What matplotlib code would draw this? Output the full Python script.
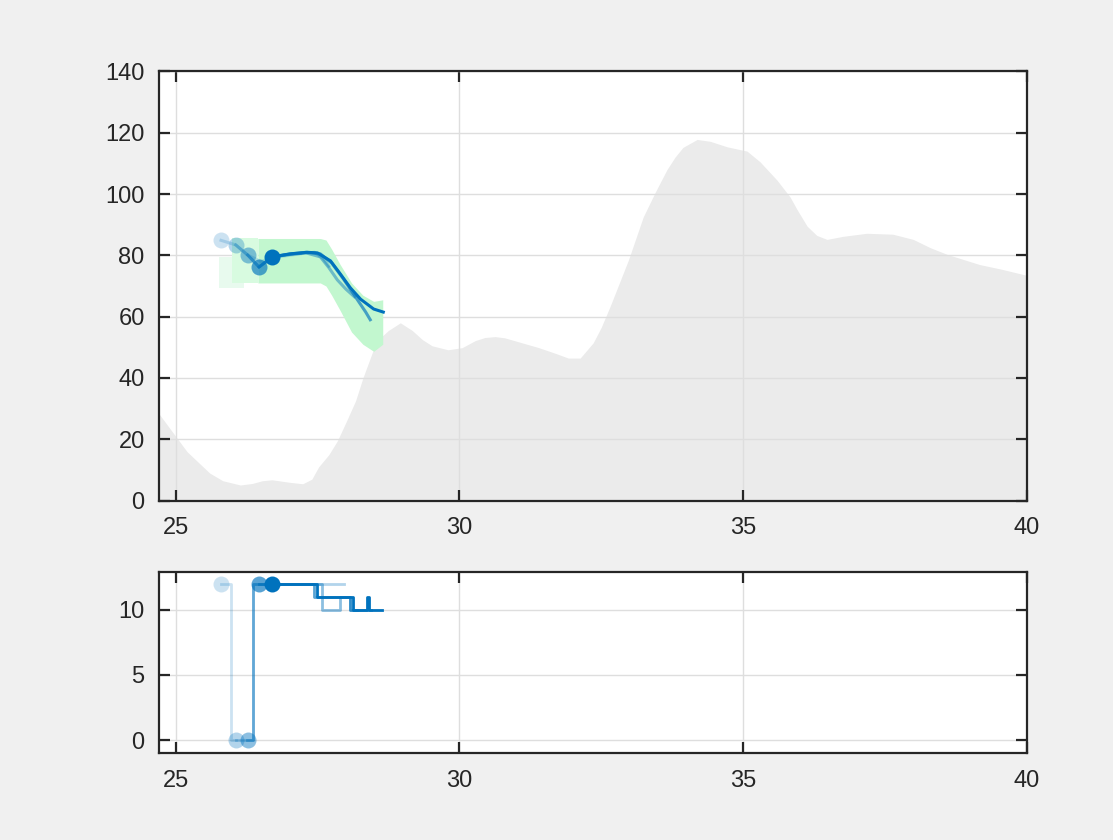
import matplotlib
matplotlib.use("Agg")
import matplotlib.pyplot as plt

# ---------------- data ----------------
terrain_x = [24.7, 25.0, 25.2, 25.4, 25.6, 25.83, 26.14, 26.35, 26.53, 26.7, 27.0, 27.24,
             27.4, 27.52, 27.7, 27.85, 28.0, 28.17, 28.3, 28.47, 28.6, 28.75, 28.96,
             29.17, 29.35, 29.52, 29.8, 30.05, 30.28, 30.45, 30.63, 30.8, 31.1, 31.4,
             31.7, 31.92, 32.13, 32.36, 32.5, 32.66, 32.82, 32.98, 33.24, 33.45, 33.66,
             33.8, 33.94, 34.19, 34.42, 34.72, 35.07, 35.3, 35.45, 35.6, 35.83, 35.95,
             36.13, 36.3, 36.48, 36.76, 37.18, 37.64, 38.0, 38.3, 38.6, 39.17, 39.55,
             39.93, 40.0]
terrain_y = [28.5, 21, 16, 12.5, 9, 6.5, 5.1, 5.6, 6.5, 6.8, 6.0, 5.5,
             7, 11, 15, 19.5, 25.5, 32.5, 40, 48.5, 53, 55.5, 58,
             55.5, 52.5, 50.5, 49.2, 49.9, 52.2, 53.2, 53.5, 53.1, 51.5, 49.9,
             48, 46.5, 46.5, 51.5, 56.5, 63.5, 71, 78.5, 92.5, 100.5, 108,
             112, 115.2, 117.8, 117.2, 115.4, 114, 110.5, 107.5, 104.5, 99, 95,
             89.5, 86.5, 85.2, 86.2, 87.2, 86.9, 85.2, 82.5, 80.3, 77, 75.5,
             73.8, 73.5]

# corridor (green band)
band_faint_x = [25.76, 26.2]
band_faint_lo = [69.5, 69.5]
band_faint_hi = [79.5, 79.5]
band_light_x = [26.0, 26.45]
band_light_lo = [71, 71]
band_light_hi = [85.5, 85.5]
band_x = [26.45, 27.55, 27.65, 27.75, 27.9, 28.1, 28.3, 28.49, 28.65]
band_hi = [85.5, 85.5, 85, 82, 77, 71, 67, 65, 65.5]
band_lo = [71, 71, 70, 67, 62, 55, 51, 48.7, 51]

# iterations: start markers
start_x = [25.80, 26.06, 26.27, 26.47, 26.70]
start_alt = [84.9, 83.4, 80.1, 76.2, 79.5]
start_val = [12, 0, 0, 12, 12]
alphas = [0.2, 0.3, 0.45, 0.65, 1.0]

# top-panel trajectories
traj1_x = [25.80, 26.06, 26.27, 26.5, 26.8, 27.2]
traj1_y = [84.9, 83.4, 80.1, 78, 79.5, 80.5]
traj2_x = [26.06, 26.27, 26.47, 26.7, 27.1, 27.45, 27.6, 27.7]
traj2_y = [83.4, 80.1, 76.2, 79.5, 80.5, 81, 79, 76.5]
traj3_x = [26.27, 26.47, 26.7, 27.0, 27.3, 27.55, 27.7, 27.85, 28.0, 28.15]
traj3_y = [80.1, 76.2, 79.5, 80.3, 80.8, 79.5, 76, 72, 69, 66.5]
traj4_x = [26.47, 26.6, 26.7, 27.0, 27.3, 27.55, 27.75, 27.95, 28.15, 28.35, 28.43]
traj4_y = [76.2, 78, 79.5, 80.4, 81, 80.5, 77.5, 72.5, 67, 61.5, 59]
traj5_x = [26.70, 27.02, 27.32, 27.5, 27.73, 27.9, 28.08, 28.26, 28.49, 28.66]
traj5_y = [79.5, 80.5, 81, 80.8, 78.2, 74, 69.4, 65.7, 62.5, 61.5]

# bottom-panel step trajectories
step1_x = [25.80, 25.97, 26.06]
step1_y = [12, 0, 0]
step2_x = [26.06, 26.37, 27.96]
step2_y = [0, 12, 12]
step3_x = [26.26, 26.37, 27.58, 27.90, 28.08, 28.2]
step3_y = [0, 12, 10, 11, 10, 10]
step4_x = [26.47, 27.43, 28.08, 28.45]
step4_y = [12, 11, 10, 10]
step5_x = [26.70, 27.50, 28.13, 28.38, 28.41, 28.64]
step5_y = [12, 11, 10, 11, 10, 10]

xticks = [25, 30, 35, 40]
top_yticks = [0, 20, 40, 60, 80, 100, 120, 140]
bot_yticks = [0, 5, 10]

# ---------------- style ----------------
BLUE = "#0072BD"
AXC = "#262626"
plt.rcParams["font.family"] = ["Liberation Sans", "DejaVu Sans"]

fig = plt.figure(figsize=(11.13, 8.40), dpi=100, facecolor="#f0f0f0")
ax1 = fig.add_axes([0.1425, 0.404, 0.780, 0.511])
ax2 = fig.add_axes([0.1425, 0.1035, 0.780, 0.2155])


def style(ax):
    ax.set_facecolor("white")
    ax.grid(True, color="#dedede", linewidth=1.0)
    ax.set_axisbelow(False)
    for s in ax.spines.values():
        s.set_color(AXC)
        s.set_linewidth(1.6)
        s.set_zorder(10)
    ax.tick_params(direction="in", length=8, width=1.6, color=AXC,
                   top=True, right=True, labelsize=17, labelcolor=AXC)
    ax.tick_params(axis="y", pad=10)
    ax.tick_params(axis="x", pad=12)
    ax.set_xlim(24.7, 40)
    ax.set_xticks(xticks)


# top panel
style(ax1)
ax1.fill_between(terrain_x, 0, terrain_y, color="#ebebeb", linewidth=0, zorder=2.5)
ax1.fill_between(band_faint_x, band_faint_lo, band_faint_hi, color="#e8faee", linewidth=0, zorder=3)
ax1.fill_between(band_light_x, band_light_lo, band_light_hi, color="#d8fbe0", linewidth=0, zorder=3)
ax1.fill_between(band_x, band_lo, band_hi, color="#c2f7cf", linewidth=0, zorder=3.1)

trajs = [(traj1_x, traj1_y), (traj2_x, traj2_y), (traj3_x, traj3_y),
         (traj4_x, traj4_y), (traj5_x, traj5_y)]
for (tx, ty), a in zip(trajs, alphas):
    ax1.plot(tx, ty, color=BLUE, alpha=a, linewidth=2.2, zorder=4)
for sx, sy, a in zip(start_x, start_alt, alphas):
    ax1.plot([sx], [sy], "o", color=BLUE, alpha=a, markersize=11.5,
             markeredgewidth=0, zorder=5)
ax1.set_ylim(0, 140)
ax1.set_yticks(top_yticks)

# bottom panel
style(ax2)
steps = [(step1_x, step1_y), (step2_x, step2_y), (step3_x, step3_y),
         (step4_x, step4_y), (step5_x, step5_y)]
for (tx, ty), a in zip(steps, alphas):
    ax2.step(tx, ty, where="post", color=BLUE, alpha=a, linewidth=2.0, zorder=4)
for sx, sy, a in zip(start_x, start_val, alphas):
    ax2.plot([sx], [sy], "o", color=BLUE, alpha=a, markersize=11.5,
             markeredgewidth=0, zorder=5)
ax2.set_ylim(-1.0, 12.9)
ax2.set_yticks(bot_yticks)

fig.savefig("out.png", dpi=100, facecolor=fig.get_facecolor())
